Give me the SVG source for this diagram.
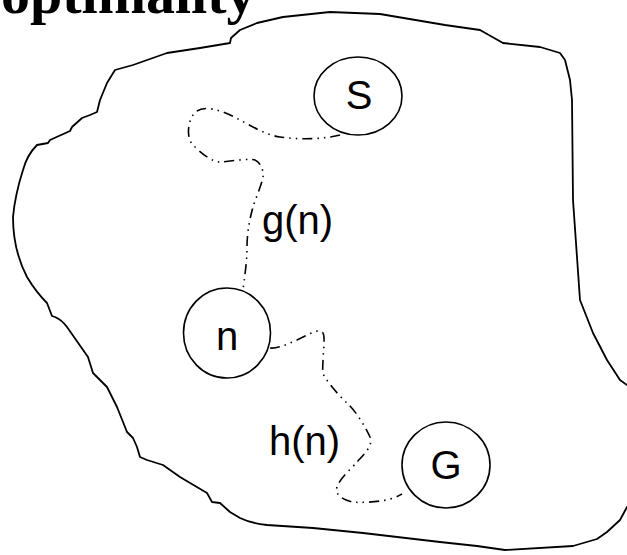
<svg xmlns="http://www.w3.org/2000/svg" width="627" height="555" viewBox="0 0 627 555">
  <style>
    .region { fill: none; stroke: #000; stroke-width: 1.8; stroke-linejoin: round; stroke-linecap: round; }
    .node circle, .node ellipse { fill: #fff; stroke: #000; stroke-width: 1.6; }
    .node text { font-family: "Liberation Sans", Arial, sans-serif; font-size: 40px; text-anchor: middle; fill: #000; }
    .path { fill: none; stroke: #000; stroke-width: 1.6; stroke-dasharray: 10 5 1.5 5 1.5 5; }
    .label { font-family: "Liberation Sans", Arial, sans-serif; font-size: 40px; fill: #000; }
    .title { font-family: "Liberation Serif", "Times New Roman", serif; font-weight: bold; font-size: 58px; fill: #000; }
  </style>
  <rect width="627" height="555" fill="#fff"/>

  <text class="title" x="1" y="13">optimality</text>

  <!-- search space outline -->
  <path class="region" d="M627,385 L620,380 L607,360 L593,333 L580,300 L573,200 L572,100 L570,80 L565,60 L560,53 L540,47 L503,43 L480,30 L445,25 L380,14 L330,12 L283,17 L257,23 L240,30 L231,38 L230,43 L200,48 L167,53 L133,65 L115,70 L107,83 L100,100 L97,112 L90,115 L82,118 L72,127 L70,131 L50,140 L48,143 L37,145 Q27,155 23,170 Q15,195 13,217 Q13,250 27,277 Q36,292 47,303 L52,316 L55,317 Q62,320 67,327 L88,357 L93,373 L107,387 L117,407 L123,422 L127,432 L133,438 L137,447 L140,457 L147,460 L163,465 L180,477 L207,493 L212,502 L220,503 L230,512 L240,518 Q250,523 267,525 L313,528 L363,533 L440,542 L477,546 L505,550 L573,546 L597,539 L607,532 L620,520 L627,507"/>

  <!-- connectors -->
  <g id="connectors">
    <path class="path" d="M340,135 C325,139 300,140 280,137 S240,118 223,112 S198,108 193,115 S186,138 193,145 S212,163 222,162 S250,158 255,160 S264,170 263,177 S255,200 253,207 S247,230 247,247 S244,280 243,290"/>
    <path class="path" d="M270,348 C276,349 286,345 297,340 S315,330 320,331 S324,338 324,343 S322,368 323,373 S338,395 347,403 S366,428 370,437 S362,456 357,462 S340,478 337,487 S346,501 353,502 S380,502 390,499 S400,495 402,494"/>
    <text class="label" x="262" y="234">g(n)</text>
    <text class="label" x="269" y="455">h(n)</text>
  </g>

  <g id="node-S" class="node">
    <ellipse cx="358" cy="96" rx="44" ry="39"/>
    <text x="359" y="109">S</text>
  </g>
  <g id="node-n" class="node">
    <ellipse cx="227" cy="333" rx="43.5" ry="45"/>
    <text x="227" y="350">n</text>
  </g>
  <g id="node-G" class="node">
    <ellipse cx="446" cy="465" rx="44" ry="43"/>
    <text x="446" y="479">G</text>
  </g>
</svg>
